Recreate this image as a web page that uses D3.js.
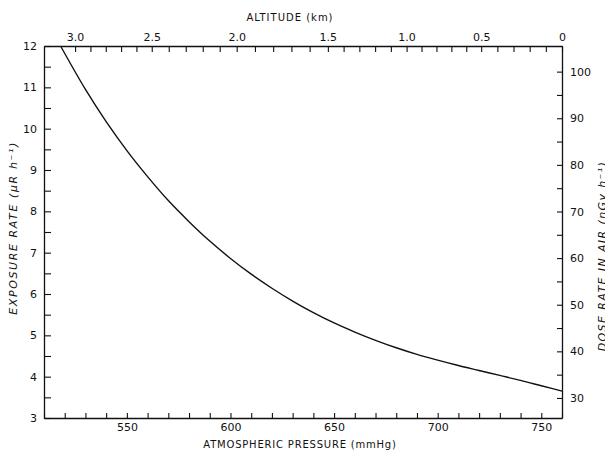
<!DOCTYPE html>
<html>
<head>
<meta charset="UTF-8">
<script src="https://d3js.org/d3.v7.min.js"></script>
<style>
  body { margin: 0; background: #fff; }
  svg text { font-family: "DejaVu Sans", sans-serif; fill: #111; }
</style>
</head>
<body>
<svg id="chart" width="605" height="452"></svg>
<script>
// pression atmospherique (mmHg) et debit d'exposition (µR/h)
var pressure = [518, 530, 540, 550, 560, 570, 580, 590, 600, 610, 620, 630, 640,
                650, 660, 670, 680, 690, 700, 710, 720, 730, 740, 750, 760];
var exposure = [12.0, 10.95, 10.17, 9.47, 8.84, 8.26, 7.75, 7.28, 6.86, 6.48, 6.14, 5.83, 5.55,
                5.30, 5.08, 4.88, 4.70, 4.54, 4.40, 4.27, 4.15, 4.03, 3.91, 3.78, 3.65];

// axes
var pressureTicks = [550, 600, 650, 700, 750];
var exposureTicks = [3, 4, 5, 6, 7, 8, 9, 10, 11, 12];
var doseTicks = [30, 40, 50, 60, 70, 80, 90, 100];
var altitudeLabels = [3.0, 2.5, 2.0, 1.5, 1.0, 0.5, 0];
var altitudePressure = [525, 562, 603, 647, 685, 721, 760]; // position des altitudes sur l'echelle de pression
var doseDomain = [25.7, 105.5];

var svg = d3.select("#chart");
var mLeft = 44, mRight = 562, mTop = 46, mBottom = 418;

var x = d3.scaleLinear().domain([510, 760]).range([mLeft, mRight]);
var y = d3.scaleLinear().domain([3, 12]).range([mBottom, mTop]);
var yDose = d3.scaleLinear().domain(doseDomain).range([mBottom, mTop]);
var altToP = d3.scaleLinear().domain(altitudeLabels).range(altitudePressure);

function style(g, size) {
  g.select(".domain").attr("stroke", "#111").attr("stroke-width", 1.3);
  g.selectAll(".tick line").attr("stroke", "#111").attr("stroke-width", 1.1);
  g.selectAll("text").style("font-size", size + "px").attr("fill", "#111");
}

// axe du bas
var minorP = d3.range(510, 761, 10);
svg.append("g").attr("transform", "translate(0," + mBottom + ")")
  .call(d3.axisBottom(x).tickValues(minorP).tickSize(-5).tickFormat("").tickSizeOuter(0))
  .call(function(g) { style(g, 11); });
svg.append("g").attr("transform", "translate(0," + mBottom + ")")
  .call(d3.axisBottom(x).tickValues(pressureTicks).tickSize(0).tickPadding(5).tickFormat(d3.format("d")))
  .call(function(g) { style(g, 11); g.select(".domain").remove(); });

// axe du haut (altitude)
var minorAlt = d3.range(0, 31).map(function(i) { return i / 10; });
svg.append("g").attr("transform", "translate(0," + mTop + ")")
  .call(d3.axisTop(x).tickValues(minorAlt.map(altToP)).tickSize(-6).tickFormat("").tickSizeOuter(0))
  .call(function(g) { style(g, 11); });
svg.append("g").attr("transform", "translate(0," + mTop + ")")
  .call(d3.axisTop(x).tickValues(altitudePressure).tickSize(0).tickPadding(5)
    .tickFormat(function(d, i) { return altitudeLabels[i] === 0 ? "0" : d3.format(".1f")(altitudeLabels[i]); }))
  .call(function(g) { style(g, 11); g.select(".domain").remove(); });

// axe de gauche
svg.append("g").attr("transform", "translate(" + mLeft + ",0)")
  .call(d3.axisLeft(y).tickValues(d3.range(3, 12.01, 0.5)).tickSize(-7).tickFormat("").tickSizeOuter(0))
  .call(function(g) { style(g, 11); });
svg.append("g").attr("transform", "translate(" + mLeft + ",0)")
  .call(d3.axisLeft(y).tickValues(exposureTicks).tickSize(0).tickPadding(7).tickFormat(d3.format("d")))
  .call(function(g) { style(g, 11); g.select(".domain").remove(); });

// axe de droite (dose)
svg.append("g").attr("transform", "translate(" + mRight + ",0)")
  .call(d3.axisRight(yDose).tickValues(d3.range(30, 105, 5)).tickSize(-5).tickFormat("").tickSizeOuter(0))
  .call(function(g) { style(g, 11); });
svg.append("g").attr("transform", "translate(" + mRight + ",0)")
  .call(d3.axisRight(yDose).tickValues(doseTicks).tickSize(0).tickPadding(8).tickFormat(d3.format("d")))
  .call(function(g) { style(g, 11); g.select(".domain").remove(); });

// courbe
var data = pressure.map(function(p, i) { return { p: p, e: exposure[i] }; });
svg.append("path")
  .datum(data)
  .attr("fill", "none")
  .attr("stroke", "#111")
  .attr("stroke-width", 1.4)
  .attr("d", d3.line().x(function(d) { return x(d.p); }).y(function(d) { return y(d.e); }).curve(d3.curveMonotoneX));

// titres
svg.append("text").attr("x", 290).attr("y", 21).attr("text-anchor", "middle")
  .style("font-size", "10px").style("letter-spacing", "1px").text("ALTITUDE (km)");
svg.append("text").attr("x", 300).attr("y", 448).attr("text-anchor", "middle")
  .style("font-size", "10px").style("letter-spacing", "0.8px").text("ATMOSPHERIC PRESSURE (mmHg)");
svg.append("text").attr("transform", "translate(17,228) rotate(-90)").attr("text-anchor", "middle")
  .style("font-size", "11px").style("font-style", "italic").style("letter-spacing", "1.6px")
  .text("EXPOSURE RATE (\u00b5R h\u207b\u00b9)");
svg.append("text").attr("transform", "translate(606,256) rotate(-90)").attr("text-anchor", "middle")
  .style("font-size", "11px").style("font-style", "italic").style("letter-spacing", "1.4px")
  .text("DOSE RATE IN AIR (nGy h\u207b\u00b9)");
</script>
</body>
</html>
